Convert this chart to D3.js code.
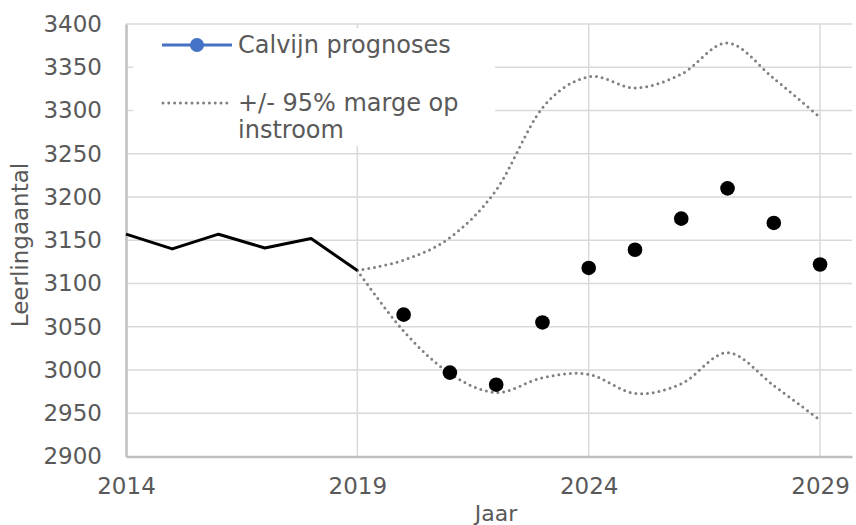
<!DOCTYPE html>
<html>
<head>
<meta charset="utf-8">
<script src="https://cdn.jsdelivr.net/npm/d3@7"></script>
<style>
	body { margin: 0; background: #fff; }
	text { font-family: 'DejaVu Sans', Verdana, sans-serif; fill: #595959; }
</style>
</head>
<body>
<div id="chart"></div>
<script>
// historical counts, 2014-2019
const histYears = [2014, 2015, 2016, 2017, 2018, 2019];
const histValues = [3157, 3140, 3157, 3141, 3152, 3115];

// forecast points, 2020-2029
const progYears = [2020, 2021, 2022, 2023, 2024, 2025, 2026, 2027, 2028, 2029];
const progValues = [3064, 2997, 2983, 3055, 3118, 3139, 3175, 3210, 3170, 3122];

// 95% band, 2019-2029
const bandYears = [2019, 2020, 2021, 2022, 2023, 2024, 2025, 2026, 2027, 2028, 2029];
const upperValues = [3115, 3127, 3153, 3208, 3303, 3339, 3326, 3342, 3378, 3337, 3292];
const lowerValues = [3115, 3045, 2996, 2974, 2991, 2995, 2973, 2984, 3020, 2982, 2942];

const xTicks = [2014, 2019, 2024, 2029];
const yTicks = d3.range(2900, 3401, 50);

const width = 856;
const height = 525;
const plot = { left: 126, right: 852, top: 24, bottom: 456.5 };

const svg = d3.select('#chart')
	.append('svg')
	.attr('width', width)
	.attr('height', height);

const x = d3.scaleLinear().domain([2014, 2029.69]).range([plot.left, plot.right]);
const y = d3.scaleLinear().domain([2900, 3400]).range([plot.bottom, plot.top]);

// gridlines
svg.append('g')
	.selectAll('line')
	.data(yTicks.slice(1))
	.enter()
	.append('line')
	.attr('x1', plot.left)
	.attr('x2', plot.right)
	.attr('y1', d => y(d))
	.attr('y2', d => y(d))
	.attr('stroke', '#d9d9d9')
	.attr('stroke-width', 1.5);

svg.append('g')
	.selectAll('line')
	.data(xTicks.slice(1))
	.enter()
	.append('line')
	.attr('x1', d => x(d))
	.attr('x2', d => x(d))
	.attr('y1', plot.top)
	.attr('y2', plot.bottom)
	.attr('stroke', '#d9d9d9')
	.attr('stroke-width', 1.5);

// axes
const yAxis = svg.append('g')
	.attr('transform', `translate(${plot.left},0)`)
	.call(d3.axisLeft(y).tickValues(yTicks).tickFormat(d3.format('d')).tickSize(0).tickPadding(24));
yAxis.select('.domain').attr('stroke', '#bfbfbf').attr('stroke-width', 2.5);
yAxis.selectAll('text').style('font-size', '23px').attr('fill', '#595959');

const xAxis = svg.append('g')
	.attr('transform', `translate(0,${plot.bottom})`)
	.call(d3.axisBottom(x).tickValues(xTicks).tickFormat(d3.format('d')).tickSize(0).tickPadding(21));
xAxis.select('.domain').attr('stroke', '#bfbfbf').attr('stroke-width', 2.5);
xAxis.selectAll('text').style('font-size', '23px').attr('fill', '#595959');

// axis titles
svg.append('text')
	.attr('x', 496)
	.attr('y', 521)
	.attr('text-anchor', 'middle')
	.style('font-size', '22px')
	.text('Jaar');

svg.append('text')
	.attr('transform', 'translate(28,245) rotate(-90)')
	.attr('text-anchor', 'middle')
	.style('font-size', '23px')
	.text('Leerlingaantal');

// legend box (white, hides the gridlines behind it)
const legend = svg.append('g');
legend.append('rect')
	.attr('x', 133)
	.attr('y', 28)
	.attr('width', 362)
	.attr('height', 118)
	.attr('fill', '#fff');

// band lines
const smooth = d3.line()
	.x(d => x(d[0]))
	.y(d => y(d[1]))
	.curve(d3.curveCardinal.tension(0));

[upperValues, lowerValues].forEach(vals => {
	svg.append('path')
		.datum(d3.zip(bandYears, vals))
		.attr('d', smooth)
		.attr('fill', 'none')
		.attr('stroke', '#808080')
		.attr('stroke-width', 3)
		.attr('stroke-linecap', 'round')
		.attr('stroke-dasharray', '0 5.8');
});

// historical line
svg.append('path')
	.datum(d3.zip(histYears, histValues))
	.attr('d', d3.line().x(d => x(d[0])).y(d => y(d[1])))
	.attr('fill', 'none')
	.attr('stroke', '#000')
	.attr('stroke-width', 3)
	.attr('stroke-linejoin', 'round');

// forecast dots
svg.append('g')
	.selectAll('circle')
	.data(d3.zip(progYears, progValues))
	.enter()
	.append('circle')
	.attr('cx', d => x(d[0]))
	.attr('cy', d => y(d[1]))
	.attr('r', 7.3)
	.attr('fill', '#000');

// legend entries
legend.append('line')
	.attr('x1', 162).attr('x2', 232)
	.attr('y1', 45).attr('y2', 45)
	.attr('stroke', '#4472c4')
	.attr('stroke-width', 3);
legend.append('circle')
	.attr('cx', 197).attr('cy', 45).attr('r', 7)
	.attr('fill', '#4472c4');
legend.append('text')
	.attr('x', 238).attr('y', 45)
	.attr('dy', '0.35em')
	.style('font-size', '24px')
	.text('Calvijn prognoses');

legend.append('line')
	.attr('x1', 163).attr('x2', 232)
	.attr('y1', 103).attr('y2', 103)
	.attr('stroke', '#808080')
	.attr('stroke-width', 3)
	.attr('stroke-linecap', 'round')
	.attr('stroke-dasharray', '0 5.8');
legend.append('text')
	.attr('x', 238).attr('y', 103)
	.attr('dy', '0.35em')
	.style('font-size', '24px')
	.text('+/- 95% marge op');
legend.append('text')
	.attr('x', 238).attr('y', 130)
	.attr('dy', '0.35em')
	.style('font-size', '24px')
	.text('instroom');
</script>
</body>
</html>
